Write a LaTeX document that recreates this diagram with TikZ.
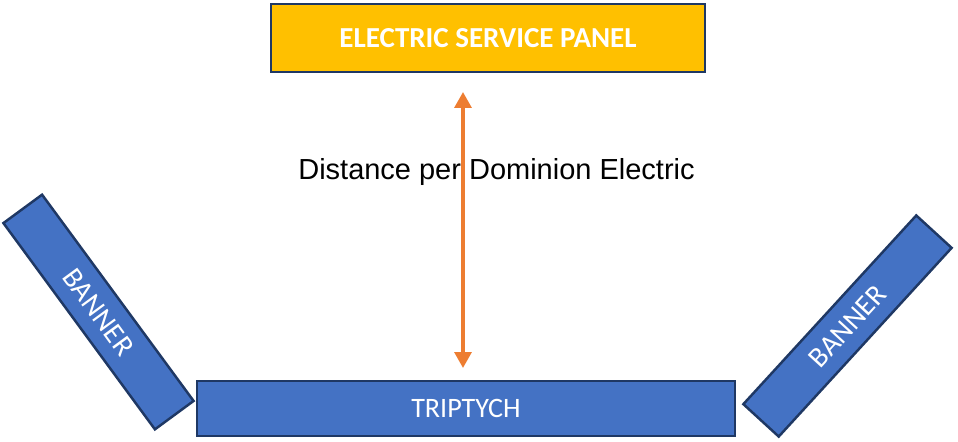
\documentclass[tikz,border=0pt]{standalone}
\usepackage{fontspec}
\setmainfont{Carlito}
\newfontfamily\arialfont{Liberation Sans}
\usepackage{xcolor}
\usetikzlibrary{arrows.meta}

\definecolor{panelgold}{HTML}{FFC000}
\definecolor{boxblue}{HTML}{4472C4}
\definecolor{edgenavy}{HTML}{1F3864}
\definecolor{lineorange}{HTML}{ED7D31}

\begin{document}
\begin{tikzpicture}
	[x=0.02cm, y=-0.02cm,
	box/.style = {draw=edgenavy, line width=1.4pt, fill=boxblue, text=white, inner sep=0pt, font=\fontsize{16}{19}\selectfont},
	banner/.style = {box, minimum width=5.12cm, minimum height=0.96cm, font=\fontsize{16.5}{19}\selectfont},
	dist/.style = {lineorange, line width=2pt, {Triangle[width=9.5pt,length=9pt]}-{Triangle[width=9.5pt,length=9pt]}}]
	\useasboundingbox (0,0) rectangle (958,441);
	\node[box, fill=panelgold, minimum width=8.68cm, minimum height=1.36cm, font=\fontsize{16.5}{19}\selectfont\bfseries] (panel) at (488,38) {ELECTRIC SERVICE PANEL};
	\node[box, minimum width=10.76cm, minimum height=1.1cm] (triptych) at (466,408.5) {TRIPTYCH};
	\node[banner, rotate=-53.7] (lbanner) at (98.5,312) {BANNER};
	\node[banner, rotate=47.5] (rbanner) at (847.5,326) {BANNER};
	\coordinate (dtop) at (463,92);
	\coordinate (dbot) at (463,368);
	\draw[dist] (dtop) -- (dbot);
	\node[font=\arialfont\fontsize{16.5}{20}\selectfont, inner sep=0pt] (label) at (496.5,172) {Distance per Dominion Electric};
\end{tikzpicture}
\end{document}
